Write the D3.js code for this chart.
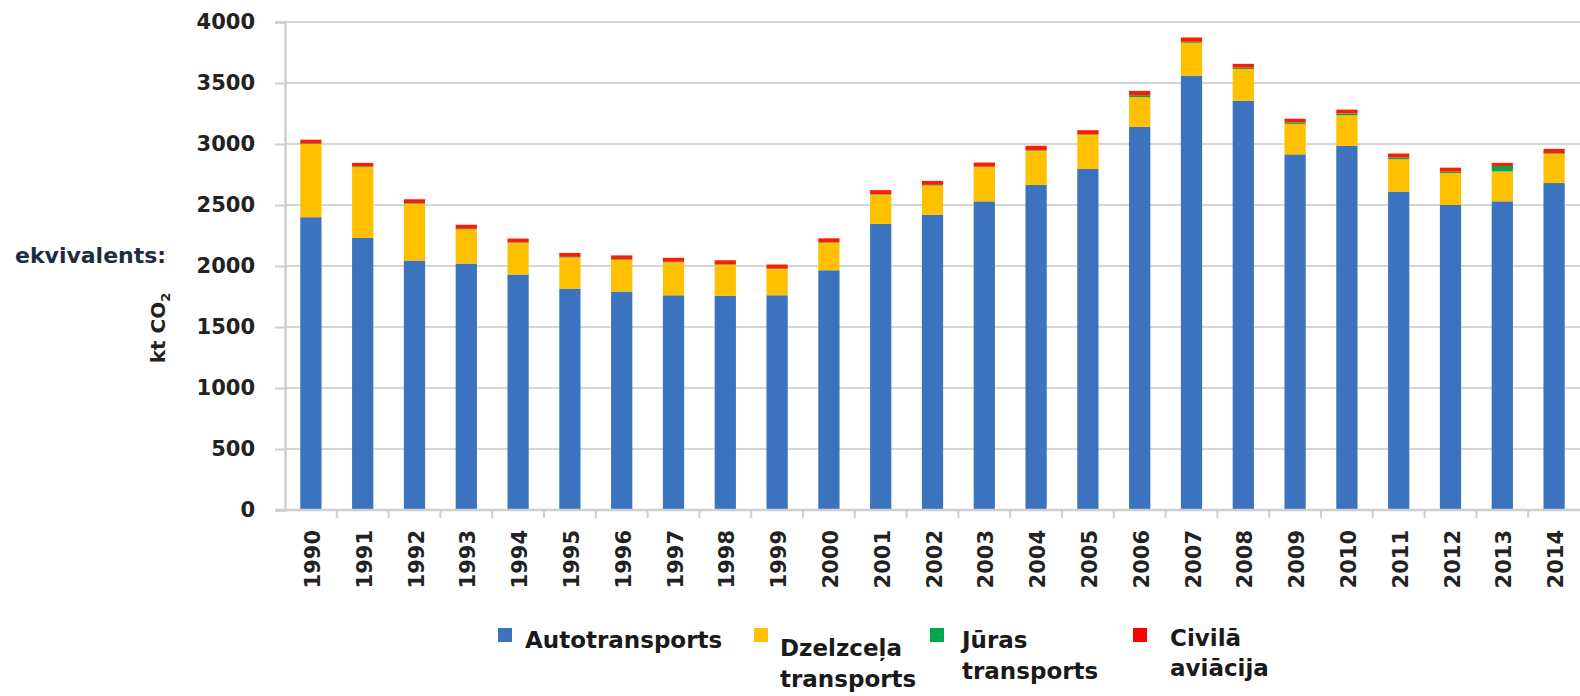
<!DOCTYPE html>
<html>
<head>
<meta charset="utf-8">
<script src="https://cdn.jsdelivr.net/npm/d3@7"></script>
<style>
  body { margin: 0; background: #fff; }
  text { font-family: "DejaVu Sans", sans-serif; font-weight: bold; }
</style>
</head>
<body>
<div id="chart"></div>
<script>
const years = ['1990','1991','1992','1993','1994','1995','1996','1997','1998','1999','2000','2001','2002',
               '2003','2004','2005','2006','2007','2008','2009','2010','2011','2012','2013','2014']
// kt CO2 ekvivalents per sector
const autotransports = [2400, 2230, 2045, 2020, 1930, 1815, 1790, 1760, 1755, 1760, 1965, 2345, 2420,
                        2530, 2665, 2795, 3140, 3560, 3355, 2915, 2985, 2610, 2500, 2530, 2680]
const dzelzcels = [600, 580, 465, 280, 260, 255, 260, 270, 255, 215, 225, 240, 240,
                   280, 280, 280, 245, 270, 260, 250, 250, 265, 262, 245, 240]
const juras = [5, 5, 5, 5, 5, 5, 5, 5, 5, 5, 5, 5, 5,
               5, 5, 5, 15, 8, 12, 12, 15, 15, 12, 45, 5]
const aviacija = [30, 30, 32, 33, 30, 32, 32, 32, 32, 32, 32, 32, 32,
                  33, 35, 33, 35, 35, 30, 30, 32, 32, 32, 25, 35]
const yTicks = [0, 500, 1000, 1500, 2000, 2500, 3000, 3500, 4000]
const seriesNames = [['Autotransports'], ['Dzelzceļa', 'transports'], ['Jūras', 'transports'], ['Civilā', 'aviācija']]

const KEYS = ['auto', 'rail', 'sea', 'air']
const COLORS = ['#3b73bf', '#ffc000', '#00a650', '#ff1a00']
const WIDTH = 1580
const HEIGHT = 696
const PLOT = {LEFT: 285, RIGHT: 1580, TOP: 22, BOTTOM: 510}

const data = years.map((y, i) => ({
    year: y, auto: autotransports[i], rail: dzelzcels[i], sea: juras[i], air: aviacija[i]
}))

const svg = d3.select('#chart')
    .append('svg')
    .attr('width', WIDTH)
    .attr('height', HEIGHT)

const x = d3.scaleBand()
    .domain(years)
    .range([PLOT.LEFT, PLOT.RIGHT])
    .paddingInner(0.59)
    .paddingOuter(0.295)

const y = d3.scaleLinear()
    .domain([0, 4000])
    .range([PLOT.BOTTOM, PLOT.TOP])

// gridlines
svg.append('g')
    .selectAll('line')
    .data(yTicks.filter(d => d > 0))
    .enter().append('line')
    .attr('x1', PLOT.LEFT)
    .attr('x2', PLOT.RIGHT)
    .attr('y1', d => y(d))
    .attr('y2', d => y(d))
    .attr('stroke', '#d6d6d6')
    .attr('stroke-width', 2)

// y axis, ticks stick out to the left
const yAxis = svg.append('g')
    .attr('transform', `translate(${PLOT.LEFT}, 0)`)
    .call(d3.axisLeft(y).tickValues(yTicks).tickFormat(d3.format('d')).tickSize(10).tickPadding(20))
yAxis.select('.domain').attr('stroke', '#cfcfcf').attr('stroke-width', 2.5)
yAxis.selectAll('.tick line').attr('stroke', '#cfcfcf').attr('stroke-width', 2)
yAxis.selectAll('.tick text')
    .attr('font-size', 21)
    .attr('fill', '#222')
    .attr('font-family', '"DejaVu Sans", sans-serif')
    .attr('font-weight', 'bold')

// stacked bars
const stacked = d3.stack().keys(KEYS)(data)
svg.append('g')
    .selectAll('g')
    .data(stacked)
    .enter().append('g')
    .attr('fill', (d, i) => COLORS[i])
    .selectAll('rect')
    .data(d => d)
    .enter().append('rect')
    .attr('x', d => x(d.data.year))
    .attr('y', d => y(d[1]))
    .attr('width', x.bandwidth())
    .attr('height', d => y(d[0]) - y(d[1]))

// x axis line and ticks between categories
svg.append('line')
    .attr('x1', PLOT.LEFT - 10)
    .attr('x2', PLOT.RIGHT)
    .attr('y1', PLOT.BOTTOM)
    .attr('y2', PLOT.BOTTOM)
    .attr('stroke', '#cfcfcf')
    .attr('stroke-width', 2.5)

svg.append('g')
    .selectAll('line')
    .data(years.slice(1))
    .enter().append('line')
    .attr('x1', d => x(d) - x.step() * x.paddingInner() / 2)
    .attr('x2', d => x(d) - x.step() * x.paddingInner() / 2)
    .attr('y1', PLOT.BOTTOM)
    .attr('y2', PLOT.BOTTOM + 8)
    .attr('stroke', '#cfcfcf')
    .attr('stroke-width', 2)

svg.append('g')
    .selectAll('text')
    .data(years)
    .enter().append('text')
    .attr('transform', d => `translate(${x(d) + x.bandwidth() / 2 + 9}, 530) rotate(-90)`)
    .attr('text-anchor', 'end')
    .attr('font-size', 21)
    .attr('fill', '#222')
    .text(d => d)

// axis title
svg.append('text')
    .attr('x', 15)
    .attr('y', 263)
    .attr('font-size', 22)
    .attr('fill', '#1f2a44')
    .text('ekvivalents:')

const yTitle = svg.append('text')
    .attr('transform', 'translate(165, 328) rotate(-90)')
    .attr('text-anchor', 'middle')
    .attr('font-size', 20)
    .attr('fill', '#222')
yTitle.append('tspan').text('kt CO')
yTitle.append('tspan').attr('font-size', 13).attr('dy', 5).text('2')

// legend
const LEGEND = [
    {sx: 498, tx: 525, base: [648]},
    {sx: 754, tx: 780, base: [656, 687]},
    {sx: 930, tx: 962, base: [648, 679]},
    {sx: 1133, tx: 1170, base: [646, 676]}
]
const legend = svg.append('g')
    .selectAll('g')
    .data(LEGEND)
    .enter().append('g')

legend.append('rect')
    .attr('x', d => d.sx)
    .attr('y', 628)
    .attr('width', 14)
    .attr('height', 14)
    .attr('fill', (d, i) => i === 3 ? '#ff0000' : COLORS[i])

legend.each(function (d, i) {
    seriesNames[i].forEach((line, j) => {
        d3.select(this).append('text')
            .attr('x', d.tx)
            .attr('y', d.base[j])
            .attr('font-size', 23)
            .attr('fill', '#1a1a1a')
            .text(line)
    })
})
</script>
</body>
</html>
